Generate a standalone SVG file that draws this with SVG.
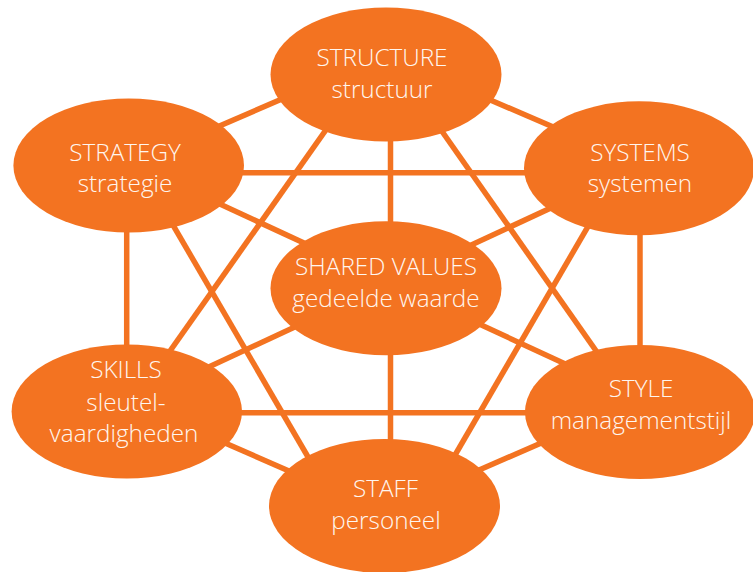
<svg xmlns="http://www.w3.org/2000/svg" width="753" height="572" viewBox="0 0 753 572">
  <style>
    .bg { fill: #ffffff; }
    .link { stroke: #f37321; stroke-width: 5.5; stroke-linecap: butt; fill: none; }
    .node ellipse { fill: #f37321; }
    .node text { fill: #fff6ef; font-family: "Open Sans", "Noto Sans", "Liberation Sans", sans-serif; font-size: 24.3px; font-weight: 300; text-anchor: middle; }
  </style>

  <rect class="bg" x="0" y="0" width="753" height="572"/>

  <!-- connectors run behind the ellipses -->
  <g id="connectors">
    <line class="link" x1="129" y1="165" x2="340" y2="74"/>
    <line class="link" x1="430" y1="74" x2="639" y2="164"/>
    <line class="link" x1="390.5" y1="74" x2="390.5" y2="288"/>
    <line class="link" x1="390.5" y1="288" x2="390.5" y2="506"/>
    <line class="link" x1="347" y1="100" x2="127" y2="412"/>
    <line class="link" x1="420" y1="100" x2="639" y2="412"/>
    <line class="link" x1="129" y1="172.7" x2="639" y2="172.7"/>
    <line class="link" x1="129" y1="162" x2="386" y2="281"/>
    <line class="link" x1="386" y1="281" x2="639" y2="398"/>
    <line class="link" x1="126.7" y1="165" x2="126.7" y2="412"/>
    <line class="link" x1="138" y1="165" x2="336" y2="505"/>
    <line class="link" x1="639" y1="167" x2="386" y2="284.6"/>
    <line class="link" x1="386" y1="284.6" x2="127" y2="405"/>
    <line class="link" x1="640" y1="168" x2="640" y2="412"/>
    <line class="link" x1="622" y1="168" x2="426" y2="505"/>
    <line class="link" x1="127" y1="412.7" x2="640" y2="412.7"/>
    <line class="link" x1="140" y1="406" x2="360" y2="502"/>
    <line class="link" x1="626" y1="406" x2="406" y2="502"/>
  </g>

  <g id="structure" class="node">
    <ellipse cx="386" cy="74.5" rx="115.5" ry="67"/>
    <text x="382" y="66">STRUCTURE</text>
    <text x="382" y="98">structuur</text>
  </g>

  <g id="strategy" class="node">
    <ellipse cx="128.7" cy="165.5" rx="115.3" ry="67"/>
    <text x="125" y="161">STRATEGY</text>
    <text x="125" y="192">strategie</text>
  </g>

  <g id="systems" class="node">
    <ellipse cx="639" cy="168.3" rx="115" ry="67"/>
    <text x="640" y="161">SYSTEMS</text>
    <text x="640" y="192">systemen</text>
  </g>

  <g id="shared-values" class="node">
    <ellipse cx="386" cy="288.3" rx="115.5" ry="67"/>
    <text x="386" y="275">SHARED VALUES</text>
    <text x="386" y="307">gedeelde waarde</text>
  </g>

  <g id="skills" class="node">
    <ellipse cx="126.8" cy="411.5" rx="115.2" ry="67"/>
    <text x="126" y="378">SKILLS</text>
    <text x="126" y="411">sleutel-</text>
    <text x="124" y="442">vaardigheden</text>
  </g>

  <g id="style" class="node">
    <ellipse cx="640" cy="412" rx="115" ry="67"/>
    <text x="641" y="397">STYLE</text>
    <text x="641" y="429">managementstijl</text>
  </g>

  <g id="staff" class="node">
    <ellipse cx="384.5" cy="506" rx="115.5" ry="67"/>
    <text x="385.5" y="497">STAFF</text>
    <text x="386" y="529">personeel</text>
  </g>
</svg>
